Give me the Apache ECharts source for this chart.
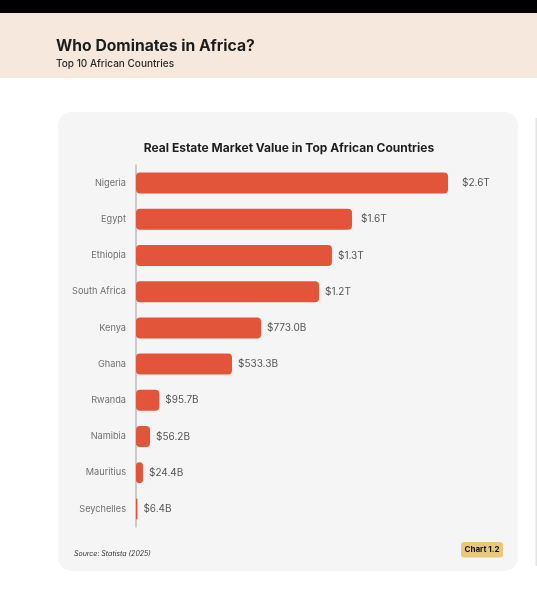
<!DOCTYPE html>
<html>
<head>
<meta charset="utf-8">
<script src="https://cdn.jsdelivr.net/npm/echarts@6/dist/echarts.min.js"></script>
<style>
html,body{margin:0;padding:0;background:#ffffff;}
#chart{width:537px;height:615px;}
</style>
</head>
<body>
<div id="chart"></div>
<script>
// Categories (top to bottom)
const countries = ['Nigeria', 'Egypt', 'Ethiopia', 'South Africa', 'Kenya', 'Ghana', 'Rwanda', 'Namibia', 'Mauritius', 'Seychelles'];
// Bar lengths as drawn (billion USD)
const barValues = [2600, 1800, 1633, 1525, 1042, 800, 194, 117, 58, 12];
// Value labels printed next to the bars
const valueLabels = ['$2.6T', '$1.6T', '$1.3T', '$1.2T', '$773.0B', '$533.3B', '$95.7B', '$56.2B', '$24.4B', '$6.4B'];

const FONT = 'Inter, "Noto Sans", sans-serif';
const chart = echarts.init(document.getElementById('chart'), null, {renderer: 'canvas'});

const labelDistance = [14, 9];

const option = {
  backgroundColor: '#ffffff',
  animation: false,
  graphic: {
    elements: [
      {type: 'rect', z: -20, shape: {x: 0, y: 0, width: 537, height: 13}, style: {fill: '#000000'}},
      {type: 'rect', z: -20, shape: {x: 0, y: 13, width: 537, height: 65}, style: {fill: '#f6e8dc'}},
      {type: 'rect', z: -20, shape: {x: 58, y: 112, width: 460, height: 459, r: 14}, style: {fill: '#f4f5f4'}},
      {type: 'rect', z: -20, shape: {x: 535.5, y: 118, width: 1.5, height: 448}, style: {fill: '#e4e4e4'}},
      {type: 'text', z: 10, x: 56, y: 46, style: {text: 'Who Dominates in Africa?', fill: '#1c1c1c', font: 'bold 15.7px ' + FONT, textVerticalAlign: 'middle'}},
      {type: 'text', z: 10, x: 56, y: 64, style: {text: 'Top 10 African Countries', fill: '#2a2a2a', font: '500 10px ' + FONT, textVerticalAlign: 'middle'}},
      {type: 'text', z: 10, x: 289, y: 148, style: {text: 'Real Estate Market Value in Top African Countries', fill: '#1e1e1e', font: 'bold 12px ' + FONT, textAlign: 'center', textVerticalAlign: 'middle'}},
      {type: 'text', z: 10, x: 74, y: 553.5, style: {text: 'Source: Statista (2025)', fill: '#333333', font: 'italic 7px ' + FONT, textVerticalAlign: 'middle'}},
      {type: 'rect', z: 5, shape: {x: 461, y: 542, width: 42, height: 15.5, r: 3}, style: {fill: '#e8c87c'}},
      {type: 'text', z: 10, x: 482, y: 549.8, style: {text: 'Chart 1.2', fill: '#111111', font: 'bold 8px ' + FONT, textAlign: 'center', textVerticalAlign: 'middle'}}
    ]
  },
  grid: {left: 136, top: 165, width: 312, height: 362, containLabel: false},
  xAxis: {
    type: 'value',
    min: 0,
    max: 2600,
    show: false
  },
  yAxis: {
    type: 'category',
    data: countries,
    inverse: true,
    axisLine: {show: true, lineStyle: {color: '#bdbdbd', width: 1.5}},
    axisTick: {show: false},
    axisLabel: {color: '#707070', fontSize: 9.2, fontFamily: FONT, margin: 10},
    splitLine: {show: false}
  },
  series: [{
    type: 'bar',
    barWidth: 21,
    data: barValues.map((v, i) => ({
      value: v,
      label: labelDistance[i] !== undefined ? {distance: labelDistance[i]} : undefined
    })),
    itemStyle: {color: '#e2553a', borderRadius: 4},
    label: {
      show: true,
      position: 'right',
      distance: 6,
      color: '#555555',
      fontSize: 10,
      fontFamily: FONT,
      formatter: p => valueLabels[p.dataIndex]
    }
  }]
};
chart.setOption(option);
</script>
</body>
</html>
